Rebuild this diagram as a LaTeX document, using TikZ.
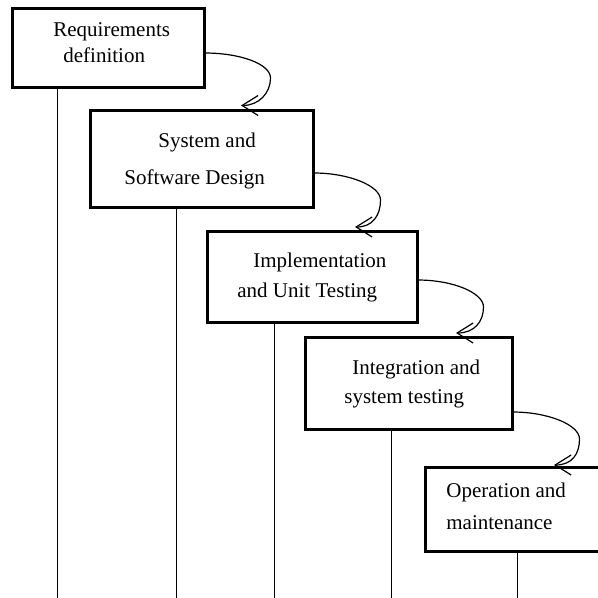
\documentclass[tikz,border=0pt]{standalone}
\usepackage{fontspec}
\setmainfont{Liberation Serif}
\usetikzlibrary{arrows.meta,calc}
\begin{document}
\begin{tikzpicture}[x=0.5pt,y=-0.5pt,
  stage/.style={draw, line width=1.5pt, rectangle, inner sep=0pt, outer sep=0pt},
  lbl/.style={anchor=base west, inner sep=0pt, font=\fontsize{10.5}{12}\selectfont},
  stem/.style={line width=0.5pt},
  flow/.style={line width=0.6pt, -{Straight Barb[length=8pt,width=10pt]}}]
\useasboundingbox (0,0) rectangle (598,598);
\clip (0,0) rectangle (598,598);

% the five phases, stepping down to the right
\node[stage, minimum width=96pt,    minimum height=39.5pt] (b1) at (108.5,48)   {};
\node[stage, minimum width=111.5pt, minimum height=48.5pt] (b2) at (202,159)    {};
\node[stage, minimum width=105pt,   minimum height=45.5pt] (b3) at (312.5,277)  {};
\node[stage, minimum width=103.5pt, minimum height=46pt]   (b4) at (409,383.5)  {};
\node[stage, minimum width=92.25pt, minimum height=42pt]   (b5) at (517.75,509.5) {};

% phase names
\node[lbl] (t1a) at (53,37)   {Requirements};
\node[lbl] (t1b) at (63,63)   {definition};
\node[lbl] (t2a) at (158,148) {System and};
\node[lbl] (t2b) at (124,185) {Software Design};
\node[lbl] (t3a) at (253,268) {Implementation};
\node[lbl] (t3b) at (237,297) {and Unit Testing};
\node[lbl] (t4a) at (352,374) {Integration and};
\node[lbl] (t4b) at (344,403) {system testing};
\node[lbl] (t5a) at (446,497) {Operation and};
\node[lbl] (t5b) at (446,529) {maintenance};

% vertical lines running down from each phase
\coordinate (f1) at (57,598);
\coordinate (f2) at (176,598);
\coordinate (f3) at (274,598);
\coordinate (f4) at (391,598);
\coordinate (f5) at (517,598);
\draw[stem] (b1.south -| f1) -- (f1);
\draw[stem] (b2.south -| f2) -- (f2);
\draw[stem] (b3.south -| f3) -- (f3);
\draw[stem] (b4.south -| f4) -- (f4);
\draw[stem] (b5.south -| f5) -- (f5);

% looping hand-over arrows between phases
\coordinate (s1) at (b1.east |- 0,53);
\coordinate (r1) at ($(s1)+(66,25)$);
\coordinate (e1) at ($(b2.north -| 241,0)+(0,-5)$);
\coordinate (s2) at (b2.east |- 0,173);
\coordinate (r2) at ($(s2)+(67,27)$);
\coordinate (e2) at ($(b3.north -| 355,0)+(0,-4.5)$);
\coordinate (s3) at (b3.east |- 0,280);
\coordinate (r3) at ($(s3)+(66,27)$);
\coordinate (e3) at ($(b4.north -| 456,0)+(0,-4.5)$);
\coordinate (s4) at (b4.east |- 0,412);
\coordinate (r4) at ($(s4)+(67,27)$);
\coordinate (e4) at ($(b5.north -| 554,0)+(0,-2.5)$);

\foreach \i in {1,2,3,4}{
  \draw[flow] (s\i) .. controls +(36,0) and +(0,-14) .. (r\i)
                    .. controls +(0,15) and +(18,0) .. (e\i);
}
\end{tikzpicture}
\end{document}
